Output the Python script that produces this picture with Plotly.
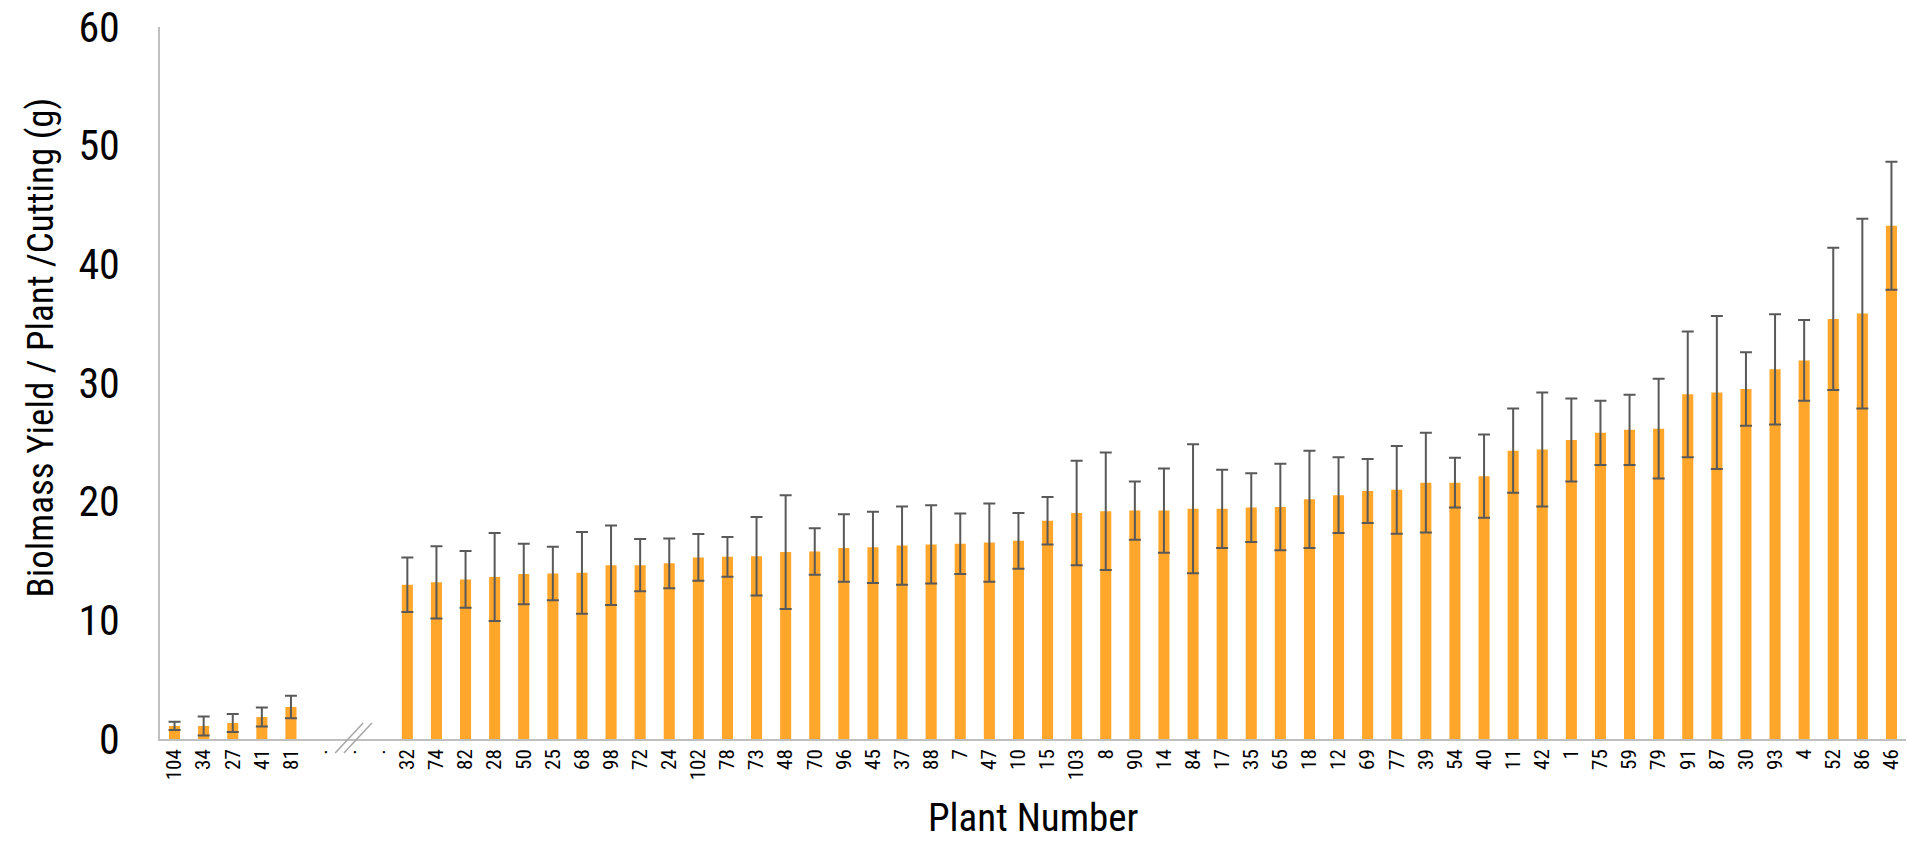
import plotly.graph_objects as go

# Plant numbers, low-yield group first, then the ranked main group
low_plants = ["104", "34", "27", "41", "81"]
low_mean = [1.1, 1.1, 1.35, 1.85, 2.7]
low_sd = [0.35, 0.8, 0.75, 0.8, 0.95]

gap_labels = [".", ".", "."]

main_plants = ["32", "74", "82", "28", "50", "25", "68", "98", "72", "24",
               "102", "78", "73", "48", "70", "96", "45", "37", "88", "7",
               "47", "10", "15", "103", "8", "90", "14", "84", "17", "35",
               "65", "18", "12", "69", "77", "39", "54", "40", "11", "42",
               "1", "75", "59", "79", "91", "87", "30", "93", "4", "52",
               "86", "46"]
main_mean = [13.0, 13.2, 13.45, 13.65, 13.9, 13.95, 14.0, 14.65, 14.65, 14.8,
             15.3, 15.35, 15.4, 15.75, 15.8, 16.1, 16.15, 16.3, 16.4, 16.45,
             16.55, 16.7, 18.4, 19.05, 19.2, 19.25, 19.25, 19.4, 19.4, 19.5,
             19.55, 20.2, 20.55, 20.9, 21.0, 21.6, 21.6, 22.15, 24.3, 24.4,
             25.2, 25.8, 26.05, 26.15, 29.05, 29.2, 29.5, 31.15, 31.9, 35.4,
             35.85, 43.25]
main_sd = [2.3, 3.05, 2.4, 3.7, 2.55, 2.25, 3.45, 3.35, 2.2, 2.1,
           1.97, 1.67, 3.3, 4.8, 1.95, 2.85, 3.0, 3.3, 3.3, 2.55,
           3.3, 2.35, 2.0, 4.4, 4.95, 2.45, 3.55, 5.43, 3.3, 2.9,
           3.65, 4.1, 3.2, 2.7, 3.7, 4.2, 2.1, 3.5, 3.55, 4.8,
           3.5, 2.7, 2.95, 4.2, 5.3, 6.45, 3.1, 4.65, 3.4, 6.0,
           8.0, 5.4]

FONT = "Roboto Condensed, Liberation Sans, Arial, sans-serif"

# unique keys for the category axis; the gap slots carry no bar
gap_keys = ["gap%d" % i for i in range(len(gap_labels))]
categories = low_plants + gap_keys + main_plants
tick_text = low_plants + gap_labels + main_plants
values = low_mean + [None] * len(gap_keys) + main_mean
errors = low_sd + [None] * len(gap_keys) + main_sd

fig = go.Figure()
fig.add_trace(go.Bar(
    x=categories,
    y=values,
    marker=dict(color="#FFA62B", line=dict(width=0)),
    error_y=dict(type="data", array=errors, visible=True,
                 color="#595959", thickness=2, width=6),
    width=0.38,
))

# axis-break marks drawn across the category axis between the two groups
n = len(categories)
break_pos = len(low_plants) + 1  # centre gap slot


def dom_x(idx):
    return (idx + 0.5) / n


for off in (0.0, 0.3):
    fig.add_shape(type="line", xref="x domain", yref="y domain",
                  x0=dom_x(break_pos - 0.48 + off), y0=-1.18 / 60,
                  x1=dom_x(break_pos + 0.48 + off), y1=1.35 / 60,
                  line=dict(color="#A6A6A6", width=1.5))

# axis titles
fig.add_annotation(
    text="Biolmass Yield / Plant /Cutting (g)",
    textangle=-90, showarrow=False,
    xref="paper", x=0, xshift=-120, xanchor="center",
    yref="paper", y=0.55, yanchor="middle",
    font=dict(size=37, family=FONT, color="#000000"),
)
fig.add_annotation(
    text="Plant Number",
    showarrow=False,
    xref="paper", x=0.5, xanchor="center",
    yref="paper", y=0, yshift=-79, yanchor="middle",
    font=dict(size=39, family=FONT, color="#000000"),
)

fig.update_layout(
    width=1907, height=842, autosize=False,
    margin=dict(l=160, r=1, t=27, b=103),
    plot_bgcolor="white", paper_bgcolor="white",
    showlegend=False,
    font=dict(family=FONT, color="#000000"),
)
fig.update_xaxes(
    type="category",
    tickmode="array", tickvals=categories, ticktext=tick_text,
    tickangle=-90, tickfont=dict(size=21, family=FONT),
    showline=True, linecolor="#BFBFBF", linewidth=1.5,
    showgrid=False, ticks="", zeroline=False,
)
fig.update_yaxes(
    range=[0, 60], dtick=10,
    tickfont=dict(size=42, family=FONT),
    showline=True, linecolor="#BFBFBF", linewidth=1.5,
    showgrid=False, ticks="", zeroline=False,
    ticklabelstandoff=30,
)

fig.write_html("out.html")
